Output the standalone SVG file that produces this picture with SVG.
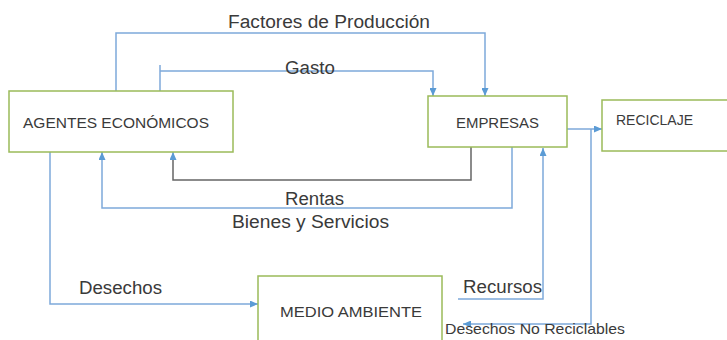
<svg xmlns="http://www.w3.org/2000/svg" width="727" height="340" viewBox="0 0 727 340">
  <defs>
    <marker id="arr" markerUnits="userSpaceOnUse" markerWidth="8" markerHeight="7" refX="8" refY="3.5" orient="auto">
      <path d="M0,0 L8,3.5 L0,7 z" fill="#5b9bd5"/>
    </marker>
    <style>
      .box { fill: #ffffff; stroke: #9bbb59; stroke-width: 1.5; }
      .lbl { font-family: "Liberation Sans", Arial, sans-serif; font-size: 15px; fill: #3a3a3a; }
      .t { font-family: "Liberation Sans", Arial, sans-serif; font-size: 18px; fill: #3a3a3a; }
      .c { fill: none; stroke: #7ea9da; stroke-width: 1.5; }
      .g { fill: none; stroke: #666666; stroke-width: 1.5; }
    </style>
  </defs>
  <rect width="727" height="340" fill="#ffffff"/>

  <g id="connectors">
    <path class="c" d="M116,91 V33 H485 V96" marker-end="url(#arr)"/>
    <path class="c" d="M160,65 V91"/>
    <path class="c" d="M160,71 H433 V96" marker-end="url(#arr)"/>
    <path class="g" d="M471,147 V180 H173 V158"/>
    <path class="c" d="M173,160 V152" marker-end="url(#arr)"/>
    <path class="c" d="M512,147 V208 H102 V152" marker-end="url(#arr)"/>
    <path class="c" d="M50,152 V304 H258" marker-end="url(#arr)"/>
    <path class="c" d="M458,299 H543 V148" marker-end="url(#arr)"/>
    <path class="c" d="M567,129 H602" marker-end="url(#arr)"/>
    <path class="c" d="M591,129 V324 H463" marker-end="url(#arr)"/>
  </g>

  <g id="labels">
    <text class="t" x="228" y="28" textLength="202" lengthAdjust="spacingAndGlyphs">Factores de Producción</text>
    <text class="t" x="285" y="74" textLength="50" lengthAdjust="spacingAndGlyphs">Gasto</text>
    <text class="t" x="285" y="205" textLength="59" lengthAdjust="spacingAndGlyphs">Rentas</text>
    <text class="t" x="232" y="228" textLength="157" lengthAdjust="spacingAndGlyphs">Bienes y Servicios</text>
    <text class="t" x="79" y="294" textLength="83" lengthAdjust="spacingAndGlyphs">Desechos</text>
    <text class="t" x="463" y="293" textLength="79" lengthAdjust="spacingAndGlyphs">Recursos</text>
    <text class="lbl" x="445" y="334" font-size="13" fill="#222222" textLength="180" lengthAdjust="spacingAndGlyphs">Desechos No Reciclables</text>
  </g>

  <g id="agentes">
    <rect class="box" x="9" y="91" width="224" height="61"/>
    <text class="lbl" x="23" y="128" textLength="186" lengthAdjust="spacingAndGlyphs">AGENTES ECONÓMICOS</text>
  </g>
  <g id="empresas">
    <rect class="box" x="428" y="96" width="139" height="51"/>
    <text class="lbl" x="456" y="128" textLength="83" lengthAdjust="spacingAndGlyphs">EMPRESAS</text>
  </g>
  <g id="reciclaje">
    <rect class="box" x="602" y="100" width="130" height="51"/>
    <text class="lbl" x="616" y="125" textLength="77" lengthAdjust="spacingAndGlyphs">RECICLAJE</text>
  </g>
  <g id="medio-ambiente">
    <rect class="box" x="258" y="276" width="184" height="70"/>
    <text class="lbl" x="280" y="317" textLength="142" lengthAdjust="spacingAndGlyphs">MEDIO AMBIENTE</text>
  </g>
</svg>
